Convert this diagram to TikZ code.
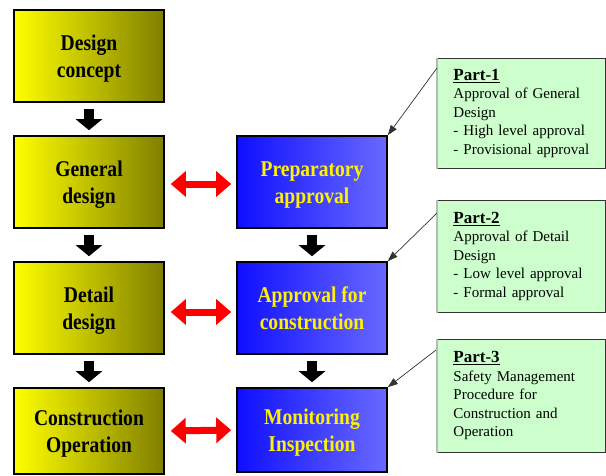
\documentclass[tikz,border=0pt]{standalone}
\usepackage{fontspec}
\setmainfont{Liberation Serif}
\newfontfamily\boxfont[FakeStretch=0.87]{Liberation Serif}
\usetikzlibrary{arrows.meta,calc}
\begin{document}
\begin{tikzpicture}[x=1pt,y=-1pt,
  box/.style={draw=black, line width=1.6pt, minimum width=150pt, minimum height=92pt,
    inner sep=0pt, align=center, text height=48pt, text depth=5pt,
    font=\boxfont\fontsize{22.5}{27}\selectfont\bfseries},
  ybox/.style={box, left color=yellow, middle color=yellow!80!olive, right color=olive, text=black},
  bbox/.style={box, left color={rgb,255:red,15;green,15;blue,255},
    right color={rgb,255:red,105;green,105;blue,255}, text=yellow},
  gbox/.style={draw=gray!40!black, line width=0.9pt, fill={rgb,255:red,204;green,255;blue,204},
    anchor=north west, minimum width=168pt, minimum height=110pt, inner xsep=16pt, inner ysep=0pt,
    text width=136pt, align=left, font=\fontsize{15}{18.5}\selectfont},
  gleft/.style={draw=gray!55, line width=2.5pt},
  down/.style={line width=10pt, -{Triangle[width=26pt,length=11pt]}, shorten <=6pt, shorten >=5pt},
  both/.style={red, line width=7pt, {Triangle[width=25pt,length=15pt]}-{Triangle[width=25pt,length=15pt]},
    shorten <=6pt, shorten >=5pt},
  note/.style={draw=black!80, line width=0.7pt, -{Triangle[width=7pt,length=10pt]}}
]
\useasboundingbox (0,0) rectangle (606,475);

% yellow column
\node[ybox] (dc) at (89,56) {Design\\concept};
\node[ybox] (gd) at (89,182) {General\\design};
\node[ybox] (dd) at (89,308) {Detail\\design};
\node[ybox, minimum height=86pt] (co) at (89,431) {Construction\\Operation};

% blue column
\node[bbox] (pa) at (312,182) {Preparatory\\approval};
\node[bbox] (ac) at (312,308) {Approval for\\construction};
\node[bbox, minimum height=84pt] (mi) at (312,430) {Monitoring\\Inspection};

% green notes
\node[gbox] (p1) at (437,58) {{\fontsize{17}{20}\selectfont\bfseries\underline{Part-1}}\\Approval of General\\Design\\- High level approval\\- Provisional approval};
\node[gbox, minimum height=112pt] (p2) at (437,200) {{\fontsize{17}{20}\selectfont\bfseries\underline{Part-2}}\\Approval of Detail\\Design\\- Low level approval\\- Formal approval};
\node[gbox, minimum height=113pt] (p3) at (437,339) {{\fontsize{17}{20}\selectfont\bfseries\underline{Part-3}}\\Safety Management\\Procedure for\\Construction and\\Operation};
\draw[gleft] (p1.north west) -- (p1.south west);
\draw[gleft] (p2.north west) -- (p2.south west);
\draw[gleft] (p3.north west) -- (p3.south west);

% down arrows
\draw[down] (dc.south) -- (gd.north);
\draw[down] (gd.south) -- (dd.north);
\draw[down] (dd.south) -- (co.north);
\draw[down] (pa.south) -- (ac.north);
\draw[down] (ac.south) -- (mi.north);

% red double arrows
\draw[both] ([yshift=-2pt]gd.east) -- ([yshift=-2pt]pa.west);
\draw[both] ([yshift=-4pt]dd.east) -- ([yshift=-4pt]ac.west);
\draw[both] (co.east) -- (mi.west);

% note pointers
\draw[note] ($(p1.north west)+(0,10)$) -- (pa.north east);
\draw[note] ($(p2.north west)+(0,13)$) -- (ac.north east);
\draw[note] ($(p3.north west)+(-1,11)$) -- (mi.north east);
\end{tikzpicture}
\end{document}
